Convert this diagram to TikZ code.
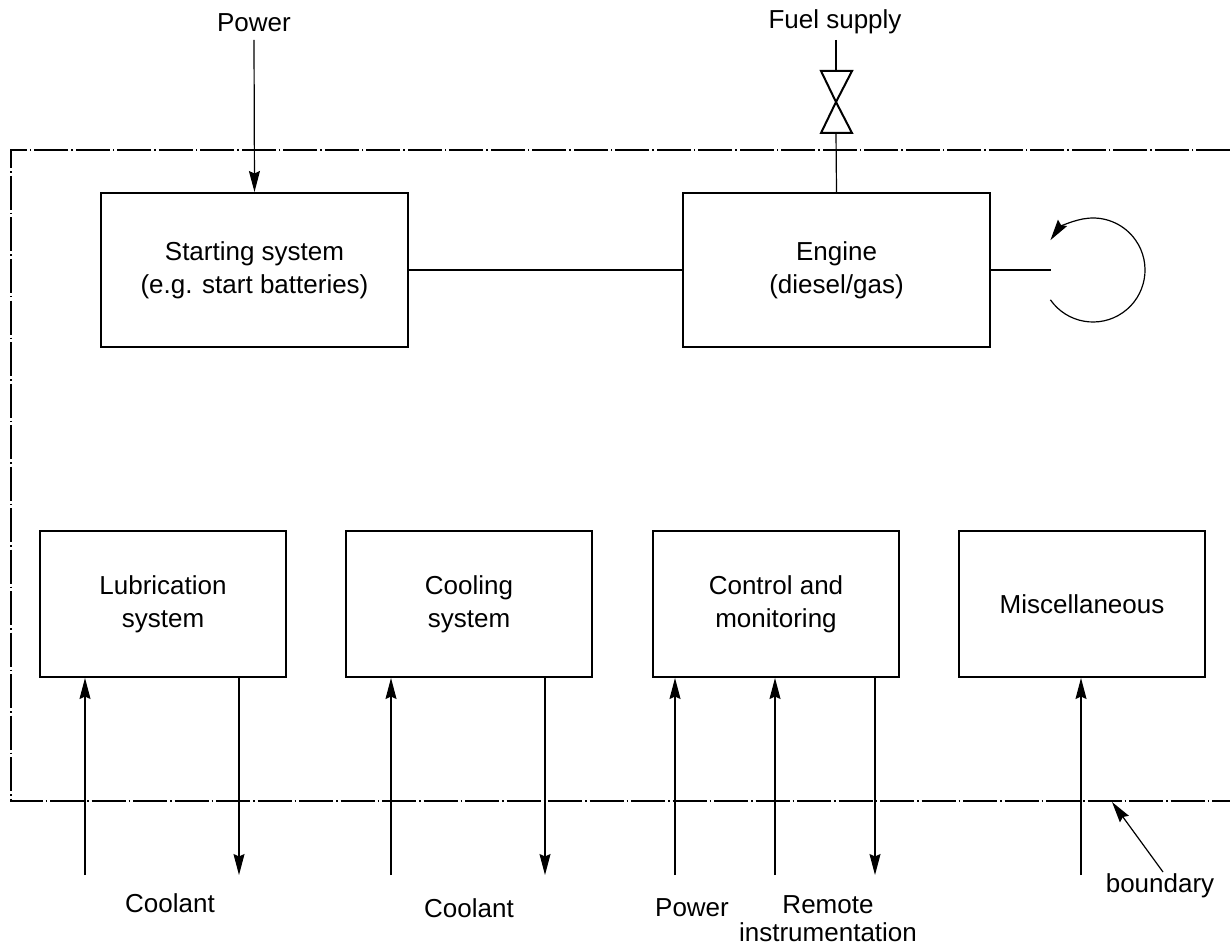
\documentclass[tikz,border=0pt]{standalone}
\usepackage{fontspec}
\setmainfont{Liberation Sans}
\usetikzlibrary{arrows.meta}

\tikzset{
    unit/.style = {draw, line width=2pt, minimum width=307pt, minimum height=154pt, align=center},
    subunit/.style = {unit, minimum width=246pt, minimum height=146pt},
    label/.style = {align=center, inner sep=0pt},
    flow/.style = {line width=1.2pt, -{Stealth[length=21pt, width=11pt, inset=2.5pt]}},
    plain/.style = {line width=1.2pt},
    border/.style = {line width=1.2pt, dash pattern=on 34pt off 3pt on 1.5pt off 3pt}
}

\begin{document}
\begin{tikzpicture}[x=1pt, y=-1pt, font=\fontsize{26}{33}\selectfont]

\useasboundingbox (0,0) rectangle (1230,949);

\draw[border] (1230,150) -- (11,150) -- (11,801) -- (1230,801);

\node[unit] (start) at (254.5,270) {Starting system\\(e.g. start batteries)};
\node[unit] (engine) at (836.5,270) {Engine\\(diesel/gas)};
\node[subunit] (lub) at (163,604) {Lubrication\\system};
\node[subunit] (cool) at (469,604) {Cooling\\system};
\node[subunit] (ctrl) at (776,604) {Control and\\monitoring};
\node[subunit] (misc) at (1082,604) {Miscellaneous};

\node[label] (power) at (254,23) {Power};
\node[label] (fuel) at (835,22) {Fuel supply};
\node[label] (coolant1) at (170,903) {Coolant};
\node[label] (coolant2) at (469,908) {Coolant};
\node[label] (power2) at (692,908) {Power};
\node[label, font=\fontsize{26}{28}\selectfont] (remote) at (828,919) {Remote\\instrumentation};
\node[label] (boundary) at (1160,886) {boundary};

% inputs from the top
\coordinate (powerin) at (254,40);
\draw[flow] (powerin) -- (start.north);
\draw[plain] (start.east) -- (engine.west);

% fuel valve
\coordinate (valvetop) at (836,71);
\coordinate (valvemid) at (836,102);
\coordinate (valvebot) at (836,133);
\draw[plain] (836,40) -- (valvetop);
\draw[line width=2pt, line join=miter] (821,71) -- (852,71) -- (valvemid) -- (821,133) -- (852,133) -- (valvemid) -- cycle;
\draw[plain] (valvebot) -- (engine.north);

% output shaft
\coordinate (shaft) at (1051,270);
\coordinate (rot) at (1093,270);
\draw[plain] (engine.east) -- (shaft);
\draw[flow] (rot) ++(215:52pt) arc[start angle=215, end angle=505, radius=52pt];

% connections across the boundary
\coordinate (lubin) at (85,875);
\coordinate (lubout) at (239,875);
\coordinate (coolin) at (391,875);
\coordinate (coolout) at (545,875);
\coordinate (ctrlpower) at (675,875);
\coordinate (ctrlremote) at (775,875);
\coordinate (ctrlout) at (875,875);
\coordinate (miscin) at (1081,875);
\draw[flow] (lubin) -- (lubin |- lub.south);
\draw[flow] (lubout |- lub.south) -- (lubout);
\draw[flow] (coolin) -- (coolin |- cool.south);
\draw[flow] (coolout |- cool.south) -- (coolout);
\draw[flow] (ctrlpower) -- (ctrlpower |- ctrl.south);
\draw[flow] (ctrlremote) -- (ctrlremote |- ctrl.south);
\draw[flow] (ctrlout |- ctrl.south) -- (ctrlout);
\draw[flow] (miscin) -- (miscin |- misc.south);

\coordinate (boundarytail) at (1163,872);
\coordinate (boundaryhead) at (1112,802);
\draw[flow] (boundarytail) -- (boundaryhead);

\end{tikzpicture}
\end{document}
